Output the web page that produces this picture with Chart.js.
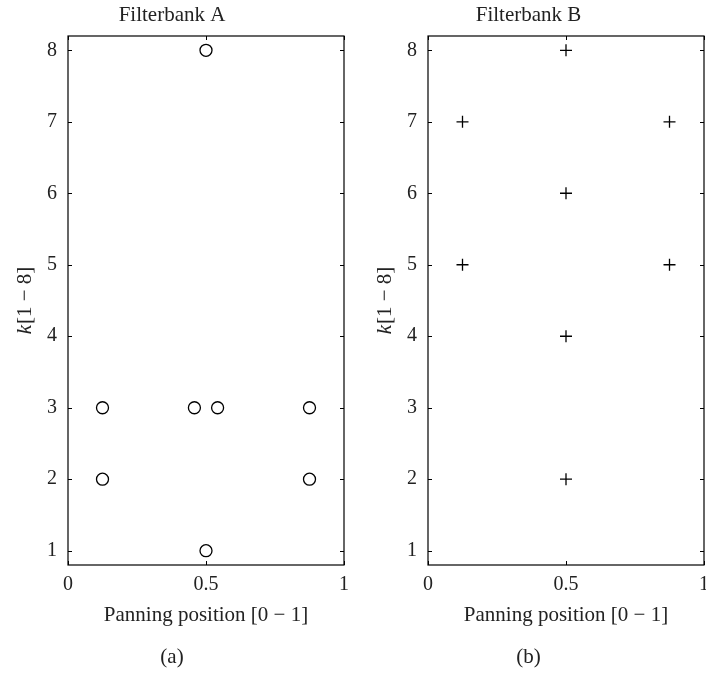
<!DOCTYPE html>
<html>
<head>
<meta charset="utf-8">
<script src="https://cdn.jsdelivr.net/npm/chart.js@4"></script>
<style>
  html, body { margin: 0; padding: 0; background: #fff; }
  #wrap { position: relative; width: 706px; height: 674px; overflow: hidden; }
  canvas { position: absolute; top: 0; }
</style>
</head>
<body>
<div id="wrap">
  <canvas id="panelA" width="353" height="674" style="left:0"></canvas>
  <canvas id="panelB" width="360" height="674" style="left:353px"></canvas>
</div>
<script>
const xTicks = [0, 0.5, 1];
const yTicks = [1, 2, 3, 4, 5, 6, 7, 8];

// Filterbank A: circles
const bankAX = [0.5, 0.5, 0.125, 0.458, 0.542, 0.875, 0.125, 0.875];
const bankAY = [8, 1, 3, 3, 3, 3, 2, 2];

// Filterbank B: crosses
const bankBX = [0.5, 0.125, 0.875, 0.5, 0.125, 0.875, 0.5, 0.5];
const bankBY = [8, 7, 7, 6, 5, 5, 4, 2];

const serif = '"Liberation Serif", "DejaVu Serif", serif';
const textColor = '#222';

// box around the plot with inward ticks on all four sides
const frame = {
    id: 'frame',
    afterDraw(chart) {
        const { ctx, chartArea: a, scales } = chart;
        ctx.save();
        ctx.strokeStyle = '#000';
        ctx.lineWidth = 1.2;
        ctx.strokeRect(a.left, a.top, a.right - a.left, a.bottom - a.top);
        ctx.beginPath();
        scales.x.ticks.forEach(t => {
            const px = Math.round(scales.x.getPixelForValue(t.value)) + 0.5;
            ctx.moveTo(px, a.bottom); ctx.lineTo(px, a.bottom - 4);
            ctx.moveTo(px, a.top); ctx.lineTo(px, a.top + 4);
        });
        scales.y.ticks.forEach(t => {
            const py = Math.round(scales.y.getPixelForValue(t.value)) + 0.5;
            ctx.moveTo(a.left, py); ctx.lineTo(a.left + 4, py);
            ctx.moveTo(a.right, py); ctx.lineTo(a.right - 4, py);
        });
        ctx.lineWidth = 1;
        ctx.stroke();

        // y label "k[1 − 8]" with italic k
        const cy = (a.top + a.bottom) / 2;
        ctx.translate(a.left - 43, cy);
        ctx.rotate(-Math.PI / 2);
        ctx.fillStyle = textColor;
        ctx.textBaseline = 'middle';
        ctx.font = 'italic 21px ' + serif;
        const wk = ctx.measureText('k').width;
        ctx.font = '21px ' + serif;
        const rest = '[1 − 8]';
        const wr = ctx.measureText(rest).width;
        const x0 = -(wk + wr + 1) / 2;
        ctx.font = 'italic 21px ' + serif;
        ctx.fillText('k', x0, 0);
        ctx.font = '21px ' + serif;
        ctx.fillText(rest, x0 + wk + 1, 0);
        ctx.restore();
    }
};

function makePanel(id, title, tag, xs, ys, style, yWidth, padRight) {
    const points = xs.map((x, i) => ({ x: x, y: ys[i] }));
    new Chart(document.getElementById(id), {
        type: 'scatter',
        data: {
            datasets: [{
                data: points,
                pointStyle: style,
                pointRadius: 6,
                pointBorderWidth: 1.3,
                pointBorderColor: '#000',
                pointBackgroundColor: 'rgba(0,0,0,0)'
            }]
        },
        options: {
            responsive: false,
            animation: false,
            devicePixelRatio: 1,
            layout: { padding: { left: 0, right: padRight, top: 0, bottom: 0 } },
            plugins: {
                legend: { display: false },
                tooltip: { enabled: false },
                title: {
                    display: true,
                    text: title,
                    color: textColor,
                    font: { family: serif, size: 21, weight: 'normal' },
                    padding: { top: 2.4, bottom: 8.4 }
                },
                subtitle: {
                    display: true,
                    position: 'bottom',
                    text: tag,
                    color: textColor,
                    font: { family: serif, size: 21, weight: 'normal' },
                    padding: { top: 0, bottom: 4.4 }
                }
            },
            scales: {
                x: {
                    type: 'linear',
                    min: 0,
                    max: 1,
                    grid: { display: false, drawTicks: false },
                    border: { display: false },
                    afterBuildTicks: s => { s.ticks = xTicks.map(v => ({ value: v })); },
                    afterFit: s => { s.height = 79.4; s.paddingLeft = 0; s.paddingRight = 0; },
                    ticks: {
                        color: textColor,
                        padding: 8,
                        maxRotation: 0,
                        font: { family: serif, size: 20 },
                        callback: v => String(v)
                    },
                    title: {
                        display: true,
                        text: 'Panning position [0 − 1]',
                        color: textColor,
                        font: { family: serif, size: 21 },
                        padding: { top: 0, bottom: 16.8 }
                    }
                },
                y: {
                    type: 'linear',
                    min: 0.8,
                    max: 8.2,
                    grid: { display: false, drawTicks: false },
                    border: { display: false },
                    afterBuildTicks: s => { s.ticks = yTicks.map(v => ({ value: v })); },
                    afterFit: s => { s.width = yWidth; s.paddingTop = 0; s.paddingBottom = 0; },
                    ticks: {
                        color: textColor,
                        padding: 11,
                        font: { family: serif, size: 20 },
                        callback: v => String(v)
                    }
                }
            }
        },
        plugins: [frame]
    });
}

makePanel('panelA', 'Filterbank A', '(a)', bankAX, bankAY, 'circle', 68, 9);
// panel B canvas runs past the page edge so the last tick label is clipped like the original
makePanel('panelB', 'Filterbank B', '(b)', bankBX, bankBY, 'cross', 75, 9);
</script>
</body>
</html>
